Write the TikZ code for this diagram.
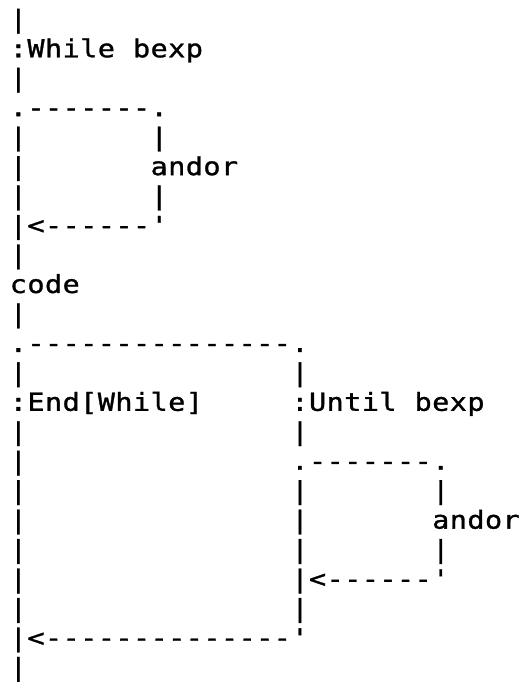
\documentclass[tikz,border=0pt]{standalone}
\usepackage{fontspec}
\setmonofont[FakeStretch=1.15,FakeBold=1.2]{DejaVu Sans Mono}
\usepackage{tikz}

% one character per fixed cell
\newlength\cellw
\setlength\cellw{8.8pt}
\newcommand\asciirow[1]{\asciicell#1\relax}
\newcommand\asciicell[1]{\ifx\relax#1\else\makebox[\cellw]{#1}\expandafter\asciicell\fi}

\tikzset{ascii/.style={anchor=base west,inner sep=0pt,
  font=\ttfamily\fontsize{12.4}{12.4}\selectfont}}

\begin{document}
\begin{tikzpicture}[x=8.8pt,y=-14.73pt]
 \useasboundingbox (0pt,0pt) rectangle (264pt,-341pt);
 \begin{scope}[shift={(4.6pt,-13.9pt)}]
  % while loop head
  \node[ascii] (row0) at (0,0) {\asciirow{|}};
  \node[ascii] (whilehead) at (0,1) {\asciirow{:While~bexp}};
  \node[ascii] (row2) at (0,2) {\asciirow{|}};
  \node[ascii] (loopa) at (0,3) {\asciirow{.-------.}};
  \node[ascii] (row4) at (0,4) {\asciirow{|~~~~~~~|}};
  \node[ascii] (andora) at (0,5) {\asciirow{|~~~~~~~andor}};
  \node[ascii] (row6) at (0,6) {\asciirow{|~~~~~~~|}};
  \node[ascii] (backa) at (0,7) {\asciirow{|<------'}};
  \node[ascii] (row8) at (0,8) {\asciirow{|}};
  % body
  \node[ascii] (code) at (0,9) {\asciirow{code}};
  \node[ascii] (row10) at (0,10) {\asciirow{|}};
  % the two ways out
  \node[ascii] (split) at (0,11) {\asciirow{.---------------.}};
  \node[ascii] (row12) at (0,12) {\asciirow{|~~~~~~~~~~~~~~~|}};
  \node[ascii] (ends) at (0,13) {\asciirow{:End[While]~~~~~:Until~bexp}};
  \node[ascii] (row14) at (0,14) {\asciirow{|~~~~~~~~~~~~~~~|}};
  \node[ascii] (loopb) at (0,15) {\asciirow{|~~~~~~~~~~~~~~~.-------.}};
  \node[ascii] (row16) at (0,16) {\asciirow{|~~~~~~~~~~~~~~~|~~~~~~~|}};
  \node[ascii] (andorb) at (0,17) {\asciirow{|~~~~~~~~~~~~~~~|~~~~~~~andor}};
  \node[ascii] (row18) at (0,18) {\asciirow{|~~~~~~~~~~~~~~~|~~~~~~~|}};
  \node[ascii] (backb) at (0,19) {\asciirow{|~~~~~~~~~~~~~~~|<------'}};
  \node[ascii] (row20) at (0,20) {\asciirow{|~~~~~~~~~~~~~~~|}};
  \node[ascii] (backc) at (0,21) {\asciirow{|<--------------'}};
  \node[ascii] (row22) at (0,22) {\asciirow{|}};
 \end{scope}
\end{tikzpicture}
\end{document}
